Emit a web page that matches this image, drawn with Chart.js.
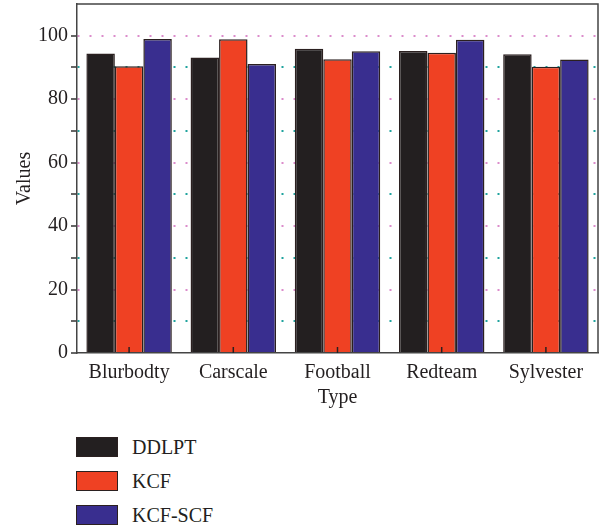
<!DOCTYPE html>
<html>
<head>
<meta charset="utf-8">
<script src="https://cdn.jsdelivr.net/npm/chart.js@4.4.0/dist/chart.umd.min.js"></script>
<style>
html, body { margin: 0; padding: 0; background: #fff; }
#wrap { position: relative; width: 602px; height: 420px; }
#legend { position: relative; width: 602px; height: 107px; }
.item { position: absolute; left: 76px; height: 20px; display: flex; align-items: center; }
.box { width: 40px; height: 18px; border: 1px solid #2b2020; }
.lbl { margin-left: 14px; font: 20px "Liberation Serif", serif; color: #231f20; }
</style>
</head>
<body>
<div id="wrap"><canvas id="myChart"></canvas></div>
<div id="legend"></div>
<script>
const categories = ['Blurbodty', 'Carscale', 'Football', 'Redteam', 'Sylvester'];
const seriesNames = ['DDLPT', 'KCF', 'KCF-SCF'];
const ddlpt = [94.4, 93.1, 95.9, 95.2, 94.2];
const kcf = [90.4, 98.9, 92.6, 94.6, 90.2];
const kcfScf = [99.0, 91.1, 95.1, 98.7, 92.5];
const yTicks = [0, 20, 40, 60, 80, 100];

const colors = ['#231f20', '#ef4123', '#392e8f'];
const ink = '#231f20';
const font = { family: '"Liberation Serif", serif', size: 20 };

// рамка сверху/справа и короткие засечки по оси x внутрь
const framePlugin = {
	id: 'frame',
	afterDatasetsDraw(chart) {
		const { ctx, chartArea: a, scales } = chart;
		ctx.save();
		ctx.strokeStyle = '#444';
		ctx.lineWidth = 1.5;
		ctx.beginPath();
		ctx.moveTo(a.left, a.top);
		ctx.lineTo(a.right, a.top);
		ctx.lineTo(a.right, a.bottom);
		ctx.stroke();
		ctx.strokeStyle = '#2b2020';
		for (let i = 0; i < categories.length; i++) {
			const x = scales.x.getPixelForValue(i);
			ctx.beginPath();
			ctx.moveTo(x, a.bottom);
			ctx.lineTo(x, a.bottom - 6);
			ctx.stroke();
		}
		ctx.restore();
	}
};

const data = [ddlpt, kcf, kcfScf];
const objToChart = {
	type: 'bar',
	data: {
		labels: categories,
		datasets: seriesNames.map((name, i) => ({
			label: name,
			data: data[i],
			backgroundColor: colors[i],
			borderColor: '#2b2020',
			borderWidth: 1.5,
			categoryPercentage: 0.82,
			barPercentage: 1.0
		}))
	},
	options: {
		responsive: true,
		maintainAspectRatio: false,
		animation: false,
		layout: { padding: { top: 4, right: 4, left: 0, bottom: 0 } },
		plugins: { legend: { display: false }, tooltip: { enabled: false } },
		scales: {
			x: {
				grid: { display: false, drawTicks: false },
				border: { color: '#444', width: 1.5 },
				ticks: { font: font, color: ink, padding: 8 },
				title: { display: true, text: 'Type', font: font, color: ink, padding: { top: 0, bottom: 10 } },
				afterFit(scale) { scale.height = 67; }
			},
			y: {
				min: 0,
				max: 110,
				afterBuildTicks(scale) { scale.ticks = scale.ticks.filter(t => t.value !== 110); },
				ticks: {
					stepSize: 10,
					font: font,
					color: ink,
					padding: 3,
					callback: v => yTicks.includes(v) ? v : ''
				},
				grid: {
					lineWidth: 2,
					color: c => c.tick.value === 0 ? 'rgba(0,0,0,0)' : (c.tick.value % 20 === 0 ? '#dc8ccb' : '#1fa39e'),
					tickColor: '#333',
					tickLength: 6,
					tickWidth: 1.5
				},
				border: { color: '#444', width: 1.5, dash: [2, 10] },
				title: { display: true, text: 'Values', font: font, color: ink, padding: { top: 13, bottom: 0 } },
				afterFit(scale) {
					scale.width = 77;
					scale.paddingTop = 0;
				}
			}
		}
	},
	plugins: [framePlugin]
};

const myChart = new Chart(document.getElementById('myChart'), objToChart);

// легенда столбиком под графиком
const legend = document.getElementById('legend');
myChart.data.datasets.forEach((ds, i) => {
	const item = document.createElement('div');
	item.className = 'item';
	item.style.top = (17 + i * 34) + 'px';
	const box = document.createElement('div');
	box.className = 'box';
	box.style.background = ds.backgroundColor;
	const lbl = document.createElement('span');
	lbl.className = 'lbl';
	lbl.textContent = ds.label;
	item.appendChild(box);
	item.appendChild(lbl);
	legend.appendChild(item);
});
</script>
</body>
</html>
